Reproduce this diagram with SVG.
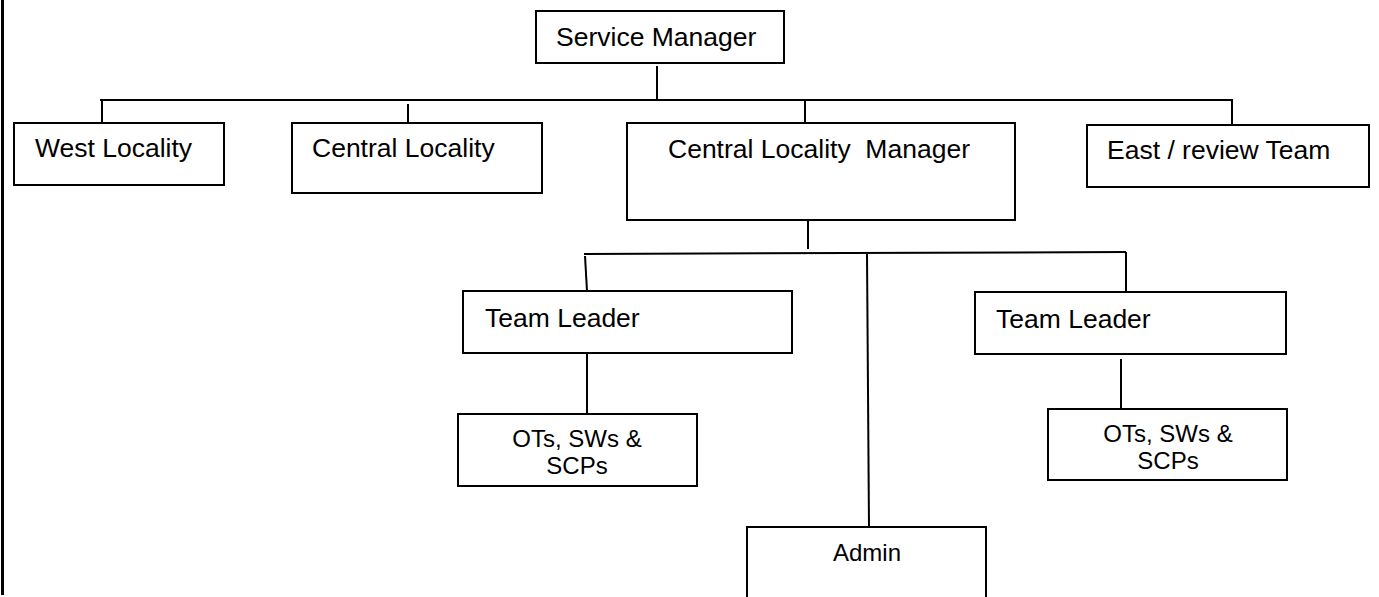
<svg xmlns="http://www.w3.org/2000/svg" width="1379" height="597" viewBox="0 0 1379 597">
<style>
.box{fill:#fff;stroke:#000;stroke-width:2}
.ln{stroke:#000;stroke-width:2;fill:none}
.t{font-family:"Liberation Sans",Arial,sans-serif;font-size:26.5px;fill:#000}
.s{font-family:"Liberation Sans",Arial,sans-serif;font-size:24px;fill:#000;text-anchor:middle}
</style>
<rect width="1379" height="597" fill="#fff"/>
<line x1="2.5" y1="0" x2="2.5" y2="595" stroke="#000" stroke-width="3"/>
<g id="connectors">
<line class="ln" x1="657" y1="66" x2="657" y2="100"/>
<line class="ln" x1="100" y1="100" x2="1232" y2="100"/>
<line class="ln" x1="102" y1="100" x2="102" y2="123"/>
<line class="ln" x1="408" y1="104" x2="408" y2="123"/>
<line class="ln" x1="805" y1="100" x2="805" y2="126"/>
<line class="ln" x1="1232" y1="99" x2="1232" y2="126"/>
<line class="ln" x1="808" y1="220" x2="808" y2="249"/>
<line class="ln" x1="584" y1="254" x2="1126" y2="252"/>
<line class="ln" x1="585" y1="256" x2="587" y2="291"/>
<line class="ln" x1="1126" y1="252" x2="1126" y2="292"/>
<line class="ln" x1="867" y1="254" x2="869" y2="528"/>
<line class="ln" x1="587" y1="353" x2="587" y2="414"/>
<line class="ln" x1="1121" y1="359" x2="1121" y2="409"/>
</g>
<g id="service-manager">
<rect class="box" x="536" y="11" width="248" height="52"/>
<text class="t" x="556" y="46">Service Manager</text>
</g>
<g id="west-locality">
<rect class="box" x="14" y="123" width="210" height="62"/>
<text class="t" x="35" y="157">West Locality</text>
</g>
<g id="central-locality">
<rect class="box" x="292" y="123" width="250" height="70"/>
<text class="t" x="312" y="157">Central Locality</text>
</g>
<g id="central-locality-manager">
<rect class="box" x="627" y="123" width="388" height="97"/>
<text class="t" x="668" y="158" xml:space="preserve">Central Locality  Manager</text>
</g>
<g id="east-review-team">
<rect class="box" x="1087" y="125" width="282" height="62"/>
<text class="t" x="1107" y="159">East / review Team</text>
</g>
<g id="team-leader-left">
<rect class="box" x="463" y="291" width="329" height="62"/>
<text class="t" x="485" y="327">Team Leader</text>
</g>
<g id="team-leader-right">
<rect class="box" x="975" y="292" width="311" height="62"/>
<text class="t" x="996" y="328">Team Leader</text>
</g>
<g id="ots-left">
<rect class="box" x="458" y="414" width="239" height="72"/>
<text class="s" x="577" y="447">OTs, SWs &amp;</text>
<text class="s" x="577" y="474">SCPs</text>
</g>
<g id="ots-right">
<rect class="box" x="1048" y="409" width="239" height="71"/>
<text class="s" x="1168" y="442">OTs, SWs &amp;</text>
<text class="s" x="1168" y="469">SCPs</text>
</g>
<g id="admin">
<rect class="box" x="747" y="527" width="239" height="80"/>
<text class="s" x="867" y="561">Admin</text>
</g>
</svg>
